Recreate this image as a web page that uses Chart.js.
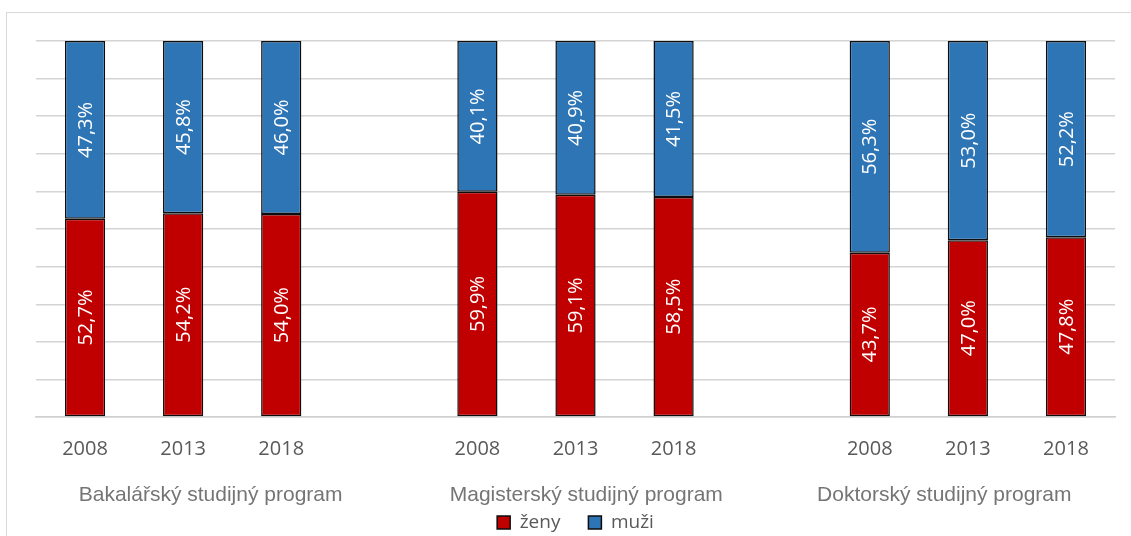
<!DOCTYPE html>
<html>
<head>
<meta charset="utf-8">
<script src="https://cdn.jsdelivr.net/npm/chart.js@4.4.1/dist/chart.umd.min.js"></script>
<style>
  html, body { margin: 0; padding: 0; background: #fff; }
  #wrap { width: 1131px; height: 536px; }
</style>
</head>
<body>
<div id="wrap"><canvas id="ChartData" width="1131" height="536"></canvas></div>
<script>
// kategorie (prázdné sloupce oddělují skupiny)
var years = ['2008', '2013', '2018', '', '2008', '2013', '2018', '', '2008', '2013', '2018'];
var groupNames = ['Bakalářský studijný program', 'Magisterský studijný program', 'Doktorský studijný program'];
var groupMiddle = [1.28, 5.11, 8.76];

// podíly v %
var zeny = [52.7, 54.2, 54.0, null, 59.9, 59.1, 58.5, null, 43.7, 47.0, 47.8];
var muzi = [47.3, 45.8, 46.0, null, 40.1, 40.9, 41.5, null, 56.3, 53.0, 52.2];

function formatPct(v) {
    return v.toFixed(1).replace('.', ',') + '%';
}

var framePlugin = {
    id: 'frame',
    beforeDraw: function (chart) {
        var ctx = chart.ctx;
        ctx.save();
        ctx.fillStyle = '#fff';
        ctx.fillRect(0, 0, chart.width, chart.height);
        ctx.strokeStyle = '#d9d9d9';
        ctx.lineWidth = 1;
        ctx.strokeRect(6.5, 12.5, chart.width + 20, chart.height + 20);
        ctx.restore();
    }
};

var valueLabels = {
    id: 'valueLabels',
    afterDatasetsDraw: function (chart) {
        var ctx = chart.ctx;
        ctx.save();
        ctx.font = '20px "Open Sans"';
        ctx.fillStyle = '#fff';
        ctx.textAlign = 'center';
        ctx.textBaseline = 'middle';
        chart.data.datasets.forEach(function (ds, di) {
            var meta = chart.getDatasetMeta(di);
            meta.data.forEach(function (el, i) {
                var v = ds.data[i];
                if (v === null || v === undefined) return;
                var cy = (el.y + el.base) / 2;
                ctx.save();
                ctx.translate(el.x, cy);
                ctx.rotate(-Math.PI / 2);
                ctx.fillText(formatPct(v), 0, 1);
                ctx.restore();
            });
        });
        ctx.restore();
    }
};

var groupLabels = {
    id: 'groupLabels',
    afterDraw: function (chart) {
        var ctx = chart.ctx;
        var xs = chart.scales.x;
        ctx.save();
        ctx.font = '21px "Liberation Sans"';
        ctx.fillStyle = '#757575';
        ctx.textAlign = 'center';
        ctx.textBaseline = 'middle';
        groupNames.forEach(function (name, k) {
            ctx.fillText(name, xs.getPixelForDecimal((groupMiddle[k] + 0.5) / years.length), 495);
        });
        ctx.restore();
    }
};

var ctx = document.getElementById('ChartData').getContext('2d');
var chart = new Chart(ctx, {
    type: 'bar',
    data: {
        labels: years,
        datasets: [{
            label: 'ženy',
            data: zeny,
            backgroundColor: '#C00000',
            borderColor: '#0d0d0d',
            borderWidth: 1.5,
            borderSkipped: false
        }, {
            label: 'muži',
            data: muzi,
            backgroundColor: '#2E75B6',
            borderColor: '#0d0d0d',
            borderWidth: 1.5,
            borderSkipped: false
        }]
    },
    options: {
        responsive: false,
        animation: false,
        devicePixelRatio: 1,
        datasets: {
            bar: { barPercentage: 0.41, categoryPercentage: 1 }
        },
        layout: { padding: { left: 36, right: 16, top: 41, bottom: -6 } },
        scales: {
            x: {
                stacked: true,
                grid: { display: false, drawTicks: false },
                border: { color: '#d0d0d0', width: 1.5 },
                ticks: {
                    color: '#595959',
                    font: { family: 'Open Sans', size: 20 },
                    padding: 20,
                    maxRotation: 0,
                    autoSkip: false
                },
                afterFit: function (s) { s.height = 68; }
            },
            y: {
                stacked: true,
                min: 0,
                max: 100,
                ticks: { display: false, stepSize: 10 },
                grid: { color: '#d4d4d4', lineWidth: 1.4, drawTicks: false },
                border: { display: false },
                afterFit: function (s) { s.width = 0; }
            }
        },
        plugins: {
            legend: {
                position: 'bottom',
                labels: {
                    color: '#595959',
                    font: { family: 'Open Sans', size: 19 },
                    boxWidth: 13,
                    boxHeight: 13,
                    padding: 28
                }
            },
            tooltip: { enabled: false }
        }
    },
    plugins: [framePlugin, valueLabels, groupLabels]
});
</script>
</body>
</html>
